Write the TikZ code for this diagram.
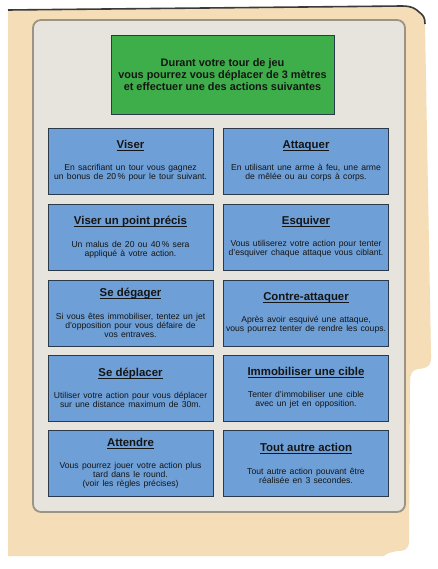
\documentclass[tikz,border=0pt]{standalone}
\usepackage{fontspec}
\setmainfont{Liberation Sans}
\definecolor{folder}{HTML}{F4DDB7}
\definecolor{topline}{HTML}{3A3A3A}
\definecolor{paper}{HTML}{E7E4DD}
\definecolor{paperedge}{HTML}{9B9384}
\definecolor{headgreen}{HTML}{3EAE4A}
\definecolor{actblue}{HTML}{6E9FD6}
\definecolor{boxline}{HTML}{2B3A4A}
\definecolor{ink}{HTML}{151515}
\newcommand\titlefont{\bfseries\fontsize{11.4bp}{13bp}\selectfont}
\newcommand\bodyfont{\fontsize{8.6bp}{9bp}\selectfont}
\newcommand\mytitle[1]{\setbox0\hbox{#1}\leavevmode\rlap{\rule[-2.2bp]{\wd0}{0.8bp}}\box0}
\newcommand\act[2]{{\titlefont\mytitle{#1}\par}\vskip13.5bp{\bodyfont #2\par}}
\tikzset{
  actbox/.style={draw=boxline, fill=actblue, line width=0.8bp,
    minimum width=165bp, minimum height=66bp, inner sep=0pt,
    text width=163bp, align=center, text=ink},
  headbox/.style={draw=boxline, fill=headgreen, line width=0.8bp,
    minimum width=223bp, minimum height=79bp, inner sep=0pt,
    align=center, text=ink,
    font=\bfseries\fontsize{10.9bp}{12bp}\selectfont},
}
\begin{document}
\begin{tikzpicture}[x=1bp,y=-1bp]
\useasboundingbox[fill=white] (0,0) rectangle (438,569);
% folder
\fill[folder] (8,10) -- (402,6) .. controls (412,6) and (416,9) .. (419,12)
  .. controls (423,15) and (425,17) .. (425,24) -- (431,355)
  .. controls (431.5,366) and (428,368) .. (418,369)
  .. controls (412,370) and (410,374) .. (410,382) -- (409,543)
  .. controls (408,549) and (405,551) .. (398,551)
  .. controls (390,552) and (386,554) .. (384,556) -- (8,556) -- cycle;
\draw[topline, line width=1.6bp] (8,10) -- (402,6) .. controls (412,6) and (416,9) .. (419,12)
  .. controls (423,15) and (425,17) .. (425,24);
% paper
\draw[paperedge, fill=paper, line width=1.8bp, rounded corners=8bp] (33,20) rectangle (405,512);
% header
\node[headbox] (head) at (222.5,74.5) {Durant votre tour de jeu\\vous pourrez vous déplacer de 3 mètres\\et effectuer une des actions suivantes};
% actions
\node[actbox] (viser) at (130.5,161) {\act{Viser}{En sacrifiant un tour vous gagnez\\un bonus de 20\,\% pour le tour suivant.}};
\node[actbox] (attaquer) at (306,161) {\act{Attaquer}{En utilisant une arme à feu, une arme\\de mêlée ou au corps à corps.}};
\node[actbox] (precis) at (130.5,237) {\act{Viser un point précis}{Un malus de 20 ou 40\,\% sera\\appliqué à votre action.}};
\node[actbox] (esquiver) at (306,237) {\act{Esquiver}{Vous utiliserez votre action pour tenter\\d'esquiver chaque attaque vous ciblant.}};
\node[actbox] (degager) at (130.5,313) {\act{Se dégager}{Si vous êtes immobiliser, tentez un jet\\d'opposition pour vous défaire de\\vos entraves.}};
\node[actbox] (contre) at (306,313) {\act{Contre-attaquer}{Après avoir esquivé une attaque,\\vous pourrez tenter de rendre les coups.}};
\node[actbox] (deplacer) at (130.5,388) {\act{Se déplacer}{Utiliser votre action pour vous déplacer\\sur une distance maximum de 30m.}};
\node[actbox] (immob) at (306,388) {\act{Immobiliser une cible}{Tenter d'immobiliser une cible\\avec un jet en opposition.}};
\node[actbox] (attendre) at (130.5,463.5) {\act{Attendre}{Vous pourrez jouer votre action plus\\tard dans le round.\\(voir les règles précises)}};
\node[actbox] (autre) at (306,463.5) {\act{Tout autre action}{Tout autre action pouvant être\\réalisée en 3 secondes.}};
\end{tikzpicture}
\end{document}
